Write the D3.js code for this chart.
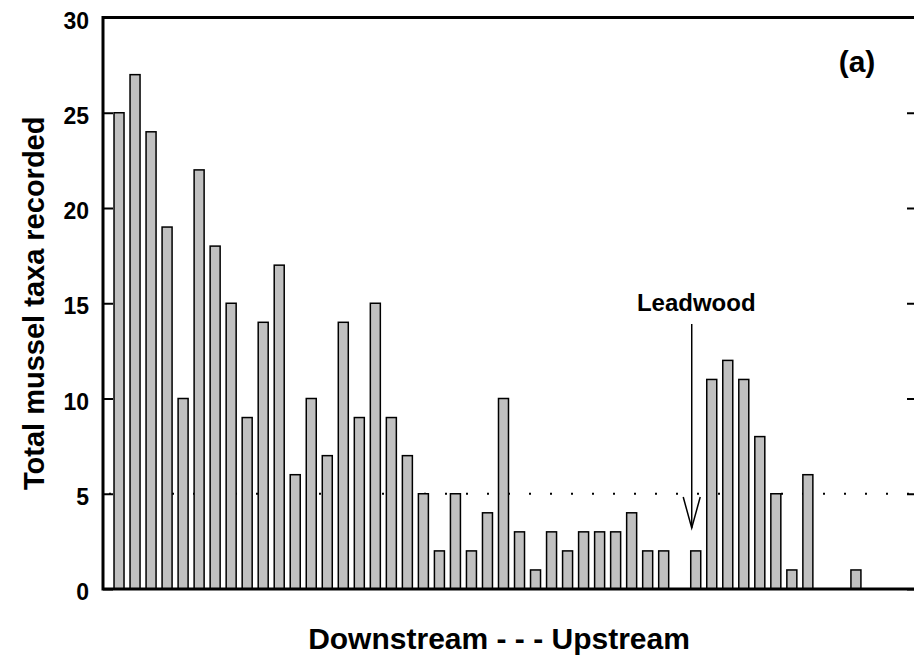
<!DOCTYPE html>
<html lang="en">
  <head>
    <meta charset="UTF-8" />
    <title>Total mussel taxa</title>
    <style>
      body { margin: 0; background: #fff; }
      svg { display: block; font-family: Arial, "Liberation Sans", sans-serif; }
      .axis text { font-size: 23px; font-weight: bold; fill: #000; }
      .title { font-weight: bold; fill: #000; }
    </style>
    <script src="https://cdn.jsdelivr.net/npm/d3@7"></script>
  </head>
  <body>
    <script>
      // sites, downstream -> upstream (0 = no bar)
      const sites = d3.range(1, 48);
      const taxa = [25, 27, 24, 19, 10, 22, 18, 15, 9, 14, 17, 6, 10, 7, 14, 9, 15, 9, 7, 5,
                    2, 5, 2, 4, 10, 3, 1, 3, 2, 3, 3, 3, 4, 2, 2, 0, 2, 11, 12, 11,
                    8, 5, 1, 6, 0, 0, 1];
      const yTicks = [0, 5, 10, 15, 20, 25, 30];
      const refLine = 5;
      const leadwoodSite = 36.75;

      const width = 914;
      const height = 662;
      const mLeft = 103, mRight = 916, mTop = 17.5, mBottom = 589;

      const x = d3.scaleLinear().domain([0, 50.75]).range([mLeft, mRight]);
      const y = d3.scaleLinear().domain([0, 30]).range([mBottom, mTop]);

      const svg = d3.select("body").append("svg")
        .attr("width", width)
        .attr("height", height);

      // dotted reference line at 5
      svg.append("line")
        .attr("x1", mLeft + 6).attr("x2", mRight)
        .attr("y1", y(refLine)).attr("y2", y(refLine))
        .attr("stroke", "#000")
        .attr("stroke-width", 2)
        .attr("stroke-dasharray", "2,19");

      const data = sites.map((s, i) => ({ site: s, value: taxa[i] })).filter(d => d.value > 0);
      const barW = 10;

      svg.selectAll("rect.bar")
        .data(data)
        .enter()
        .append("rect")
        .attr("class", "bar")
        .attr("x", d => x(d.site) - barW / 2)
        .attr("y", d => y(d.value))
        .attr("width", barW)
        .attr("height", d => y(0) - y(d.value))
        .attr("fill", "#c0c0c0")
        .attr("stroke", "#000")
        .attr("stroke-width", 1.5);

      // left axis
      const yAxis = d3.axisLeft(y).tickValues(yTicks).tickSize(-10).tickPadding(14);
      const gy = svg.append("g")
        .attr("class", "axis")
        .attr("transform", "translate(" + mLeft + ",0)")
        .call(yAxis);
      gy.select(".domain").remove();
      gy.selectAll(".tick line").attr("stroke-width", 2);
      gy.selectAll(".tick text").attr("dy", "0.46em");

      // right axis, ticks only
      const gr = svg.append("g")
        .attr("class", "axis")
        .attr("transform", "translate(" + mRight + ",0)")
        .call(d3.axisRight(y).tickValues(yTicks).tickSize(-9).tickFormat(""));
      gr.select(".domain").remove();
      gr.selectAll(".tick line").attr("stroke-width", 2);

      // frame
      svg.append("path")
        .attr("d", "M" + mRight + "," + mTop + "H" + mLeft + "V" + mBottom + "H" + mRight)
        .attr("fill", "none")
        .attr("stroke", "#000")
        .attr("stroke-width", 3);

      // Leadwood annotation
      const ax = x(leadwoodSite);
      svg.append("text")
        .attr("class", "title")
        .attr("x", ax + 4.5)
        .attr("y", 311)
        .attr("text-anchor", "middle")
        .style("font-size", "24px")
        .text("Leadwood");
      svg.append("line")
        .attr("x1", ax).attr("x2", ax)
        .attr("y1", 324).attr("y2", 528)
        .attr("stroke", "#000").attr("stroke-width", 1.5);
      svg.append("path")
        .attr("d", "M" + (ax - 8.5) + ",497 L" + ax + ",528 L" + (ax + 8.5) + ",497")
        .attr("fill", "none")
        .attr("stroke", "#000").attr("stroke-width", 1.5);

      svg.append("text")
        .attr("class", "title")
        .attr("x", 857)
        .attr("y", 72)
        .attr("text-anchor", "middle")
        .style("font-size", "30px")
        .text("(a)");

      svg.append("text")
        .attr("class", "title")
        .attr("transform", "translate(44," + (mBottom + mTop) / 2 + ") rotate(-90)")
        .attr("text-anchor", "middle")
        .style("font-size", "29px")
        .text("Total mussel taxa recorded");

      svg.append("text")
        .attr("class", "title")
        .attr("x", 499)
        .attr("y", 649)
        .attr("text-anchor", "middle")
        .style("font-size", "30px")
        .text("Downstream - - - Upstream");
    </script>
  </body>
</html>
